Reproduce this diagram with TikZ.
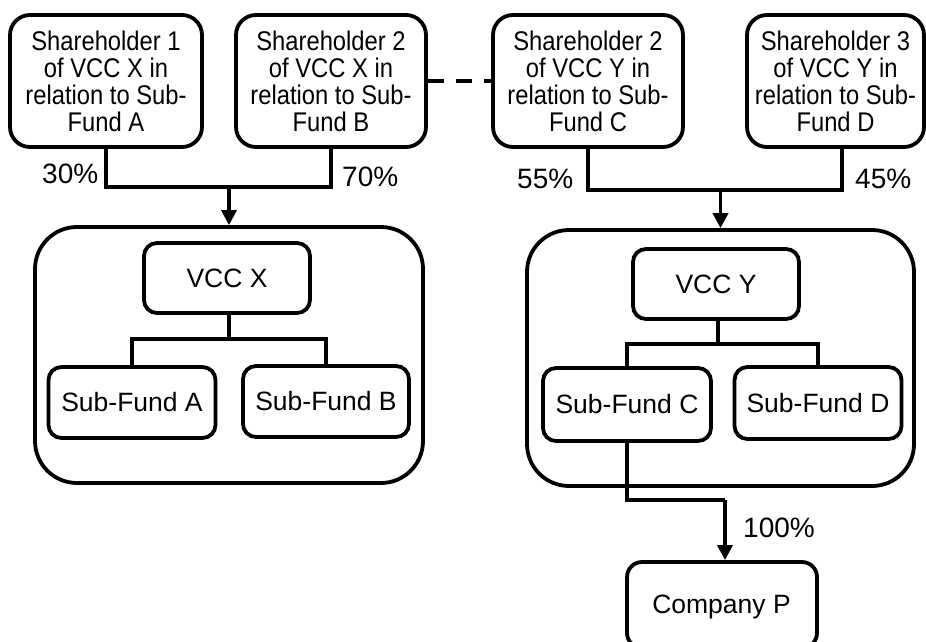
\documentclass[tikz,border=0pt]{standalone}
\usepackage{fontspec}
\setmainfont{Liberation Sans}
\newfontfamily\condfont[FakeStretch=0.88]{Liberation Sans}
\usetikzlibrary{arrows.meta}
\tikzset{
  box/.style={draw=black, line width=3.8pt, rounded corners=#1, inner sep=0pt, align=center, fill=white},
  box/.default=13pt,
  big/.style={font=\fontsize{26.5}{30}\selectfont},
  small/.style={font=\condfont\fontsize{27}{27}\selectfont},
  conn/.style={draw=black, line width=3.8pt},
  arr/.style={conn, -{Triangle[width=15pt,length=15pt]}},
  pct/.style={font=\fontsize{28}{32}\selectfont, inner sep=0pt, anchor=base west},
}
\begin{document}
\begin{tikzpicture}[x=1pt,y=-1pt]
\useasboundingbox (0,0) rectangle (926,641);
% containers
\node[box=42pt, minimum width=388pt, minimum height=256pt] (outx) at (229,355) {};
\node[box=42pt, minimum width=387pt, minimum height=256pt] (outy) at (720.5,358) {};
% shareholders
\node[box=20pt, small, minimum width=192pt, minimum height=132pt] (sh1) at (106,81) {Shareholder 1\\of VCC X in\\relation to Sub-\\Fund A};
\node[box=20pt, small, minimum width=190pt, minimum height=132pt] (sh2) at (331,81) {Shareholder 2\\of VCC X in\\relation to Sub-\\Fund B};
\node[box=20pt, small, minimum width=190pt, minimum height=132pt] (sh2y) at (588,81) {Shareholder 2\\of VCC Y in\\relation to Sub-\\Fund C};
\node[box=20pt, small, minimum width=177pt, minimum height=132pt] (sh3) at (835.5,81) {Shareholder 3\\of VCC Y in\\relation to Sub-\\Fund D};
% inner boxes
\node[box, big, minimum width=166pt, minimum height=70pt] (vccx) at (227,278) {VCC X};
\node[box, big, minimum width=167pt, minimum height=71pt] (sfa) at (132,402.5) {Sub-Fund A};
\node[box, big, minimum width=166pt, minimum height=71pt] (sfb) at (326,401.5) {Sub-Fund B};
\node[box, big, minimum width=166pt, minimum height=70pt] (vccy) at (716,284) {VCC Y};
\node[box, big, minimum width=168pt, minimum height=73pt] (sfc) at (627,404.5) {Sub-Fund C};
\node[box, big, minimum width=167pt, minimum height=72pt] (sfd) at (818,403) {Sub-Fund D};
\node[box=15pt, minimum width=190pt, minimum height=86pt] (cp) at (722,605) {};
\node[big, inner sep=0pt, anchor=base] (cpt) at (721.5,613) {Company P};
% junction coordinates
\coordinate (j1) at (229,187);
\coordinate (j2) at (720.5,190);
\coordinate (j2r) at (842,190);
\coordinate (vx) at (229,339);
\coordinate (vy) at (718,344);
\coordinate (pc) at (725,500);
% connectors
\draw[conn] (sh1.south) |- (j1) -| (sh2.south);
\draw[arr] (j1) -- (outx.north);
\draw[conn] (sh2y.south) |- (j2r) -- (j2r |- sh3.south);
\draw[arr] (j2) -- (outy.north);
\draw[conn, dash pattern=on 16pt off 12pt] (sh2.east) -- (sh2y.west);
\draw[conn] (vx |- vccx.south) -- (vx);
\draw[conn] (sfa.north) |- (vx) -| (sfb.north);
\draw[conn] (vy |- vccy.south) -- (vy);
\draw[conn] (sfc.north) |- (vy) -| (sfd.north);
\draw[conn] (sfc.south) |- (pc);
\draw[arr] (pc) -- (pc |- cp.north);
% labels
\node[pct] (p30) at (42,183) {30\%};
\node[pct] (p70) at (342,186) {70\%};
\node[pct] (p55) at (517,188) {55\%};
\node[pct] (p45) at (855,188) {45\%};
\node[pct] (p100) at (743,537) {100\%};
\end{tikzpicture}
\end{document}
